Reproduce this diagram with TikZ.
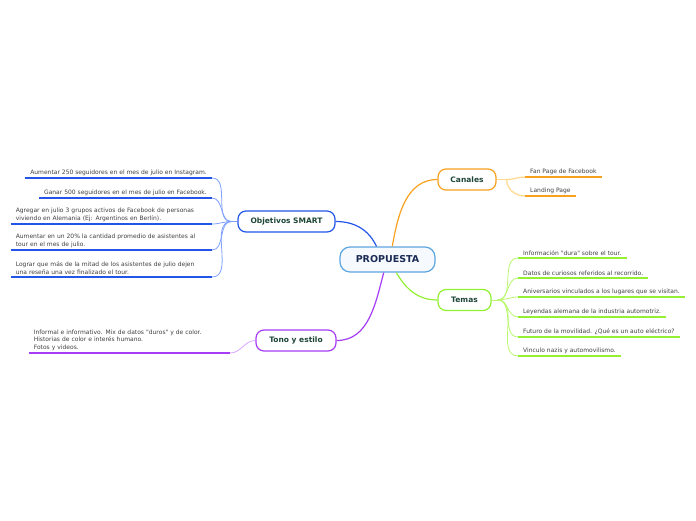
\documentclass[tikz,border=0pt]{standalone}
\usepackage{fontspec}
\usepackage{xcolor}
\usepackage{tikz}
\usetikzlibrary{positioning}
\newfontfamily\mapfont{DejaVu Sans}
\definecolor{rootblue}{HTML}{5DA5E0}
\definecolor{rootfill}{HTML}{F6FAFE}
\definecolor{rootink}{HTML}{1A2A55}
\definecolor{topicink}{HTML}{1E4636}
\definecolor{leafink}{HTML}{404040}
\definecolor{smartblue}{HTML}{2356E8}
\definecolor{smartlight}{HTML}{7FA0FF}
\definecolor{tonopurple}{HTML}{A63CF5}
\definecolor{tonolight}{HTML}{D9A6FF}
\definecolor{canorange}{HTML}{F7A11E}
\definecolor{canlight}{HTML}{FFD88A}
\definecolor{temgreen}{HTML}{93F032}
\definecolor{temlight}{HTML}{B8F76E}
\tikzset{
  root/.style  ={rectangle, rounded corners=10pt, draw=rootblue, fill=rootfill,
                 line width=1.2pt, minimum width=95pt, minimum height=25pt,
                 font=\mapfont\fontsize{9.5}{11}\selectfont\bfseries, text=rootink},
  topic/.style ={rectangle, rounded corners=8pt, fill=white, line width=1.2pt,
                 minimum height=21pt, inner xsep=2pt,
                 font=\mapfont\fontsize{7.5}{9}\selectfont\bfseries, text=topicink},
  leafL/.style ={anchor=south east, inner xsep=5pt, inner ysep=2.5pt, align=left,
                 font=\mapfont\fontsize{6}{7.5}\selectfont, text=leafink},
  leafR/.style ={anchor=south west, inner xsep=5pt, inner ysep=2.5pt, align=left,
                 font=\mapfont\fontsize{6}{7.5}\selectfont, text=leafink},
  branch/.style={line width=1.2pt},
  twig/.style  ={line width=0.8pt},
  uline/.style ={line width=1.6pt},
}
\begin{document}
\begin{tikzpicture}[x=1pt, y=-1pt]
  \useasboundingbox (0,0) rectangle (696,520);

  % ── Centre and main topics ─────────────────────────────────────────
  \node[root] (prop) at (387.5,259.5) {PROPUESTA};
  \node[topic, draw=smartblue,  minimum width=97pt] (obj)  at (286.5,221.5) {Objetivos SMART};
  \node[topic, draw=tonopurple, minimum width=80pt] (tono) at (296,340.5)   {Tono y estilo};
  \node[topic, draw=canorange,  minimum width=58pt] (can)  at (467,179.5)   {Canales};
  \node[topic, draw=temgreen,   minimum width=53pt] (tem)  at (464.5,300)   {Temas};

  \draw[branch, smartblue]  (prop.130) to[out=115,in=0]  (obj.east);
  \draw[branch, canorange]  (prop.70)  to[out=80,in=180] (can.west);
  \draw[branch, tonopurple] (prop.254) to[out=-105,in=0] (tono.east);
  \draw[branch, temgreen]   (prop.304) to[out=-60,in=180] (tem.west);

  % ── Objetivos SMART ────────────────────────────────────────────────
  \node[leafL] (o1) at (212,178) {Aumentar 250 seguidores en el mes de julio en Instagram.};
  \node[leafL] (o2) at (212,198) {Ganar 500 seguidores en el mes de julio en Facebook.};
  \node[leafL, text width=191pt] (o3) at (212,224)
        {Agregar en julio 3 grupos activos de Facebook de personas\\viviendo en Alemania (Ej: Argentinos en Berlín).};
  \node[leafL, text width=191pt] (o4) at (212,250)
        {Aumentar en un 20\% la cantidad promedio de asistentes al\\tour en el mes de julio.};
  \node[leafL, text width=191pt] (o5) at (212,277)
        {Lograr que más de la mitad de los asistentes de julio dejen\\una reseña una vez finalizado el tour.};

  \draw[twig, smartlight] (obj.west) -- ++(-6,0) coordinate (ofan);
  \draw[twig, smartlight] (ofan) to[out=180,in=0] (o1.south east);
  \draw[twig, smartlight] (ofan) to[out=180,in=0] (o2.south east);
  \draw[twig, smartlight] (ofan) to[out=180,in=0] (o3.south east);
  \draw[twig, smartlight] (ofan) to[out=180,in=0] (o4.south east);
  \draw[twig, smartlight] (ofan) to[out=180,in=0] (o5.south east);
  \draw[uline, smartblue] (o1.south west) -- (o1.south east);
  \draw[uline, smartblue] (o2.south west) -- (o2.south east);
  \draw[uline, smartblue] (o3.south west) -- (o3.south east);
  \draw[uline, smartblue] (o4.south west) -- (o4.south east);
  \draw[uline, smartblue] (o5.south west) -- (o5.south east);

  % ── Tono y estilo ──────────────────────────────────────────────────
  \node[leafL, text width=191pt] (tl) at (230,353)
        {Informal e informativo. Mix de datos "duros" y de color.\\Historias de color e interés humano.\\Fotos y videos.};
  \draw[twig, tonolight]   (tono.west) to[out=180,in=0] (tl.south east);
  \draw[uline, tonopurple] (tl.south west) -- (tl.south east);

  % ── Canales ────────────────────────────────────────────────────────
  \node[leafR] (c1) at (525,177) {Fan Page de Facebook};
  \node[leafR] (c2) at (525,196) {Landing Page};

  \draw[branch, canlight] (can.east) -- ++(10,0) coordinate (cfan);
  \draw[branch, canlight] (cfan) to[out=0,in=180] (c1.south west);
  \draw[branch, canlight] (cfan) to[out=-90,in=180] (c2.south west);
  \draw[uline, canorange] (c1.south west) -- (c1.south east);
  \draw[uline, canorange] (c2.south west) -- (c2.south east);

  % ── Temas ──────────────────────────────────────────────────────────
  \node[leafR] (t1) at (518,258) {Información "dura" sobre el tour.};
  \node[leafR] (t2) at (518,278) {Datos de curiosos referidos al recorrido.};
  \node[leafR] (t3) at (518,297) {Aniversarios vinculados a los lugares que se visitan.};
  \node[leafR] (t4) at (518,317) {Leyendas alemana de la industria automotriz.};
  \node[leafR] (t5) at (518,337) {Futuro de la movilidad. ¿Qué es un auto eléctrico?};
  \node[leafR] (t6) at (518,356) {Vinculo nazis y automovilismo.};

  \draw[twig, temlight] (tem.east) -- ++(6,0) coordinate (tfan);
  \draw[twig, temlight] (tfan) to[out=0,in=180] (t1.south west);
  \draw[twig, temlight] (tfan) to[out=0,in=180] (t2.south west);
  \draw[twig, temlight] (tfan) to[out=0,in=180] (t3.south west);
  \draw[twig, temlight] (tfan) to[out=0,in=180] (t4.south west);
  \draw[twig, temlight] (tfan) to[out=0,in=180] (t5.south west);
  \draw[twig, temlight] (tfan) to[out=0,in=180] (t6.south west);
  \draw[uline, temgreen] (t1.south west) -- (t1.south east);
  \draw[uline, temgreen] (t2.south west) -- (t2.south east);
  \draw[uline, temgreen] (t3.south west) -- (t3.south east);
  \draw[uline, temgreen] (t4.south west) -- (t4.south east);
  \draw[uline, temgreen] (t5.south west) -- (t5.south east);
  \draw[uline, temgreen] (t6.south west) -- (t6.south east);

\end{tikzpicture}
\end{document}
